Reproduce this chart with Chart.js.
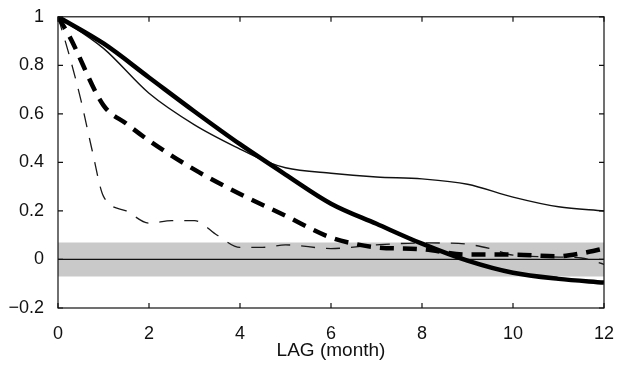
<!DOCTYPE html>
<html>
<head>
<meta charset="utf-8">
<script src="https://cdn.jsdelivr.net/npm/chart.js@4"></script>
<style>
  body { margin: 0; background: #fff; }
  #wrap { width: 622px; height: 365px; }
</style>
</head>
<body>
<div id="wrap"><canvas id="acf" width="622" height="365"></canvas></div>
<script>
// lag in months, autocorrelation values
const lagThick = [0, 1, 2, 3, 4, 5, 6, 7, 8, 9, 10, 11, 12];
const thickSolid = [1.0, 0.89, 0.75, 0.61, 0.475, 0.35, 0.23, 0.147, 0.065, -0.005, -0.055, -0.08, -0.095];

const lagThin = [0, 1, 2, 3, 4, 4.6, 5, 6, 7, 8, 9, 10, 11, 12];
const thinSolid = [1.0, 0.87, 0.685, 0.555, 0.455, 0.402, 0.378, 0.355, 0.34, 0.332, 0.31, 0.257, 0.217, 0.2];

const lagThickDash = [0, 0.25, 1, 1.5, 2, 3, 4, 5, 6, 6.5, 7, 8, 9, 10, 11, 11.5, 12];
const thickDash = [1.0, 0.92, 0.635, 0.56, 0.49, 0.37, 0.27, 0.18, 0.09, 0.065, 0.05, 0.042, 0.02, 0.02, 0.013, 0.025, 0.045];

const lagThinDash = [0, 0.25, 0.5, 0.75, 1, 1.5, 2, 2.5, 3, 3.5, 4, 4.5, 5, 6, 7, 8, 8.8, 9.5, 10, 11, 11.5, 12];
const thinDash = [1.0, 0.84, 0.66, 0.45, 0.26, 0.2, 0.15, 0.16, 0.16, 0.1, 0.05, 0.05, 0.06, 0.045, 0.06, 0.068, 0.066, 0.045, 0.018, 0.01, 0.006, -0.02];

// significance band and zero line
const bandLag = [0, 12];
const bandUpper = 0.07;
const bandLower = -0.07;

const xTicks = [0, 2, 4, 6, 8, 10, 12];
const yTicks = [-0.2, 0, 0.2, 0.4, 0.6, 0.8, 1];

const pts = (xs, ys) => xs.map((x, i) => ({ x, y: ys[i] }));

// MATLAB-style box with inward ticks
const boxPlugin = {
  id: 'box',
  afterDatasetsDraw(chart) {
    const { ctx, chartArea: a, scales } = chart;
    ctx.save();
    ctx.strokeStyle = '#111';
    ctx.lineWidth = 1.2;
    ctx.strokeRect(a.left, a.top, a.right - a.left, a.bottom - a.top);
    const len = 5;
    ctx.beginPath();
    xTicks.forEach(v => {
      const px = scales.x.getPixelForValue(v);
      ctx.moveTo(px, a.bottom); ctx.lineTo(px, a.bottom - len);
      ctx.moveTo(px, a.top); ctx.lineTo(px, a.top + len);
    });
    yTicks.forEach(v => {
      const py = scales.y.getPixelForValue(v);
      ctx.moveTo(a.left, py); ctx.lineTo(a.left + len, py);
      ctx.moveTo(a.right, py); ctx.lineTo(a.right - len, py);
    });
    ctx.stroke();
    ctx.restore();
  }
};

const tickFont = { family: '"Liberation Sans", Arial, sans-serif', size: 18 };
const titleFont = { family: '"Liberation Sans", Arial, sans-serif', size: 19 };

new Chart(document.getElementById('acf'), {
  type: 'line',
  data: {
    datasets: [
      {
        data: pts(bandLag, [bandUpper, bandUpper]),
        borderWidth: 0,
        pointRadius: 0,
        backgroundColor: '#c9c9c9',
        fill: { value: bandLower },
        order: 10
      },
      {
        data: pts(bandLag, [0, 0]),
        borderColor: '#111',
        borderWidth: 1.2,
        pointRadius: 0,
        order: 9
      },
      {
        data: pts(lagThinDash, thinDash),
        borderColor: '#1a1a1a',
        borderWidth: 1.3,
        borderDash: [14, 11],
        pointRadius: 0,
        cubicInterpolationMode: 'monotone',
        order: 4
      },
      {
        data: pts(lagThickDash, thickDash),
        borderColor: '#000',
        borderWidth: 4.5,
        borderDash: [14, 9],
        pointRadius: 0,
        cubicInterpolationMode: 'monotone',
        order: 3
      },
      {
        data: pts(lagThin, thinSolid),
        borderColor: '#111',
        borderWidth: 1.4,
        pointRadius: 0,
        cubicInterpolationMode: 'monotone',
        order: 2
      },
      {
        data: pts(lagThick, thickSolid),
        borderColor: '#000',
        borderWidth: 4.5,
        pointRadius: 0,
        cubicInterpolationMode: 'monotone',
        order: 1
      }
    ]
  },
  options: {
    responsive: false,
    animation: false,
    layout: { padding: { left: 0, right: 18, top: 14, bottom: 0 } },
    plugins: { legend: { display: false }, tooltip: { enabled: false } },
    scales: {
      x: {
        type: 'linear',
        min: 0,
        max: 12,
        grid: { display: false },
        border: { display: false },
        afterBuildTicks: s => { s.ticks = xTicks.map(v => ({ value: v })); },
        afterFit: s => { s.height = 57; },
        ticks: { color: '#111', font: tickFont, padding: 7, maxRotation: 0 },
        title: { display: true, text: 'LAG (month)', color: '#111', font: titleFont, padding: { top: 2, bottom: 3 } }
      },
      y: {
        min: -0.2,
        max: 1,
        grid: { display: false },
        border: { display: false },
        afterBuildTicks: s => { s.ticks = yTicks.map(v => ({ value: v })); },
        afterFit: s => { s.width = 58; },
        ticks: {
          color: '#111',
          font: tickFont,
          padding: 6,
          callback: v => String(Math.round(v * 10) / 10).replace('-', '\u2212')
        }
      }
    }
  },
  plugins: [boxPlugin]
});
</script>
</body>
</html>
